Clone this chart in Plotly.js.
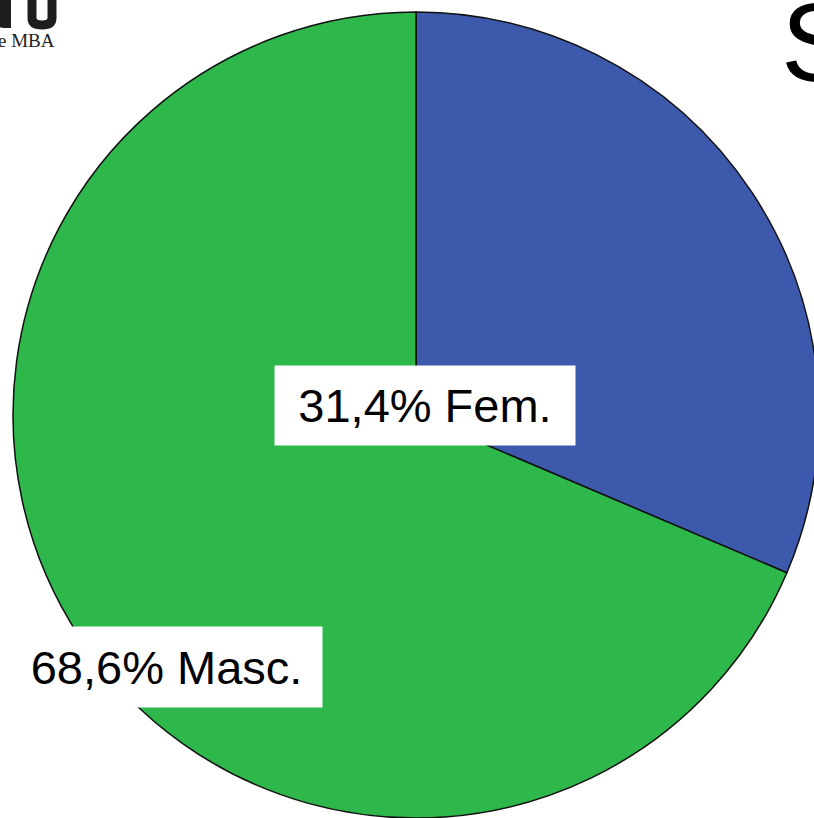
<!DOCTYPE html>
<html>
<head>
<meta charset="utf-8">
<script src="https://cdn.plot.ly/plotly-3.0.1.min.js"></script>
<style>
  html, body { margin: 0; padding: 0; overflow: hidden; background: #fff; }
  #chart { width: 832px; height: 818px; }
</style>
</head>
<body>
<div id="chart"></div>
<script>
// ---- data ----
const categories = ['Fem.', 'Masc.'];
const percentages = [31.4, 68.6];
const sliceColors = ['#3D59AB', '#2EB84B'];

// ---- geometry helpers (pixel -> paper) ----
const W = 832, H = 818, MT = 12, MB = 0;
const plotH = H - MT - MB;
const px = x => x / W;
const py = y => (H - MB - y) / plotH;

const fmt = v => v.toFixed(1).replace('.', ',') + '%';

const labelBoxes = [
  { x: 425, y: 405.5, w: 298, h: 77 },
  { x: 166.5, y: 667, w: 309, h: 78 }
];

const annotations = categories.map((c, i) => ({
  xref: 'paper', yref: 'paper',
  x: px(labelBoxes[i].x), y: py(labelBoxes[i].y),
  xanchor: 'center', yanchor: 'middle',
  text: fmt(percentages[i]) + ' ' + c,
  showarrow: false,
  bgcolor: '#ffffff',
  width: labelBoxes[i].w, height: labelBoxes[i].h,
  align: 'center',
  font: { family: 'Liberation Sans, Arial, sans-serif', size: 47, color: '#000' }
}));

// partially visible title letter at right edge
annotations.push({
  xref: 'paper', yref: 'paper', x: px(779), y: py(42),
  xanchor: 'left', yanchor: 'middle', showarrow: false,
  text: 'S',
  font: { family: 'Liberation Sans, Arial, sans-serif', size: 112, color: '#000' }
});
// logo fragment top-left
annotations.push({
  xref: 'paper', yref: 'paper', x: px(-4), y: py(41),
  xanchor: 'left', yanchor: 'middle', showarrow: false,
  text: 'e MBA',
  font: { family: 'Liberation Serif, Times New Roman, serif', size: 19, color: '#222' }
});

const shapes = [
  { type: 'path', xref: 'paper', yref: 'paper',
    path: `M ${px(32)} ${py(-2)} L ${px(32)} ${py(18)} Q ${px(32)} ${py(25)} ${px(42)} ${py(25)} Q ${px(52)} ${py(25)} ${px(52)} ${py(18)} L ${px(52)} ${py(-2)}`,
    line: { color: '#1e1e1e', width: 9 } },
  { type: 'path', xref: 'paper', yref: 'paper',
    path: `M ${px(-5)} ${py(-2)} L ${px(11)} ${py(-2)} L ${px(11)} ${py(28)} L ${px(4)} ${py(28)} Q ${px(-5)} ${py(28)} ${px(-5)} ${py(18)} Z`,
    fillcolor: '#1e1e1e', line: { width: 0 } }
];

const trace = {
  type: 'pie',
  labels: categories,
  values: percentages,
  sort: false,
  direction: 'clockwise',
  rotation: 0,
  marker: { colors: sliceColors, line: { color: '#111', width: 1.5 } },
  textinfo: 'none',
  hoverinfo: 'none',
  showlegend: false,
  domain: { x: [0, 1], y: [0, 1] }
};

const layout = {
  width: W, height: H,
  margin: { l: 0, r: 0, t: MT, b: MB, pad: 0 },
  paper_bgcolor: '#ffffff',
  showlegend: false,
  annotations: annotations,
  shapes: shapes
};

Plotly.newPlot('chart', [trace], layout, { staticPlot: true, displayModeBar: false });
</script>
</body>
</html>
